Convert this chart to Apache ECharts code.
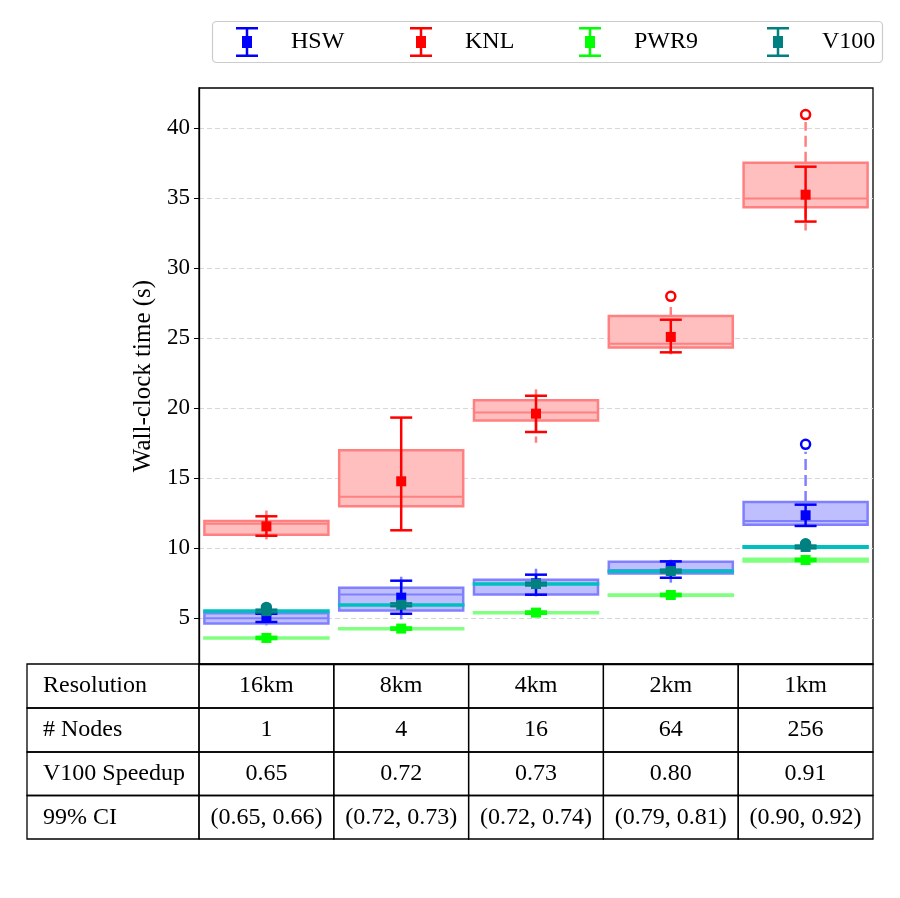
<!DOCTYPE html>
<html><head><meta charset="utf-8">
<script src="https://cdn.jsdelivr.net/npm/echarts@6/dist/echarts.min.js"></script>
<style>html,body{margin:0;padding:0;background:#fff}#c{width:900px;height:898px}</style>
</head><body><div id="c"></div>
<script>
// ---------------- data ----------------
const categories = ['16km', '8km', '4km', '2km', '1km'];
const nodes = ['1', '4', '16', '64', '256'];
const speedup = ['0.65', '0.72', '0.73', '0.80', '0.91'];
const speedupCI = ['(0.65, 0.66)', '(0.72, 0.73)', '(0.72, 0.74)', '(0.79, 0.81)', '(0.90, 0.92)'];
const yTicks = [5, 10, 15, 20, 25, 30, 35, 40];
const archNames = ['HSW', 'KNL', 'PWR9', 'V100'];

// HSW
const hswWhiskerLow  = [4.50, 4.93, 6.57, 7.55, 11.60];
const hswQ1          = [4.64, 5.57, 6.71, 8.21, 11.69];
const hswMedian      = [5.00, 6.71, 7.45, 8.45, 11.95];
const hswQ3          = [5.36, 7.19, 7.76, 9.04, 13.31];
const hswWhiskerHigh = [5.50, 8.26, 8.86, 9.19, 16.90];
const hswMean        = [5.05, 6.48, 7.50, 8.64, 12.36];
const hswCILow       = [4.74, 5.33, 6.69, 7.90, 11.60];
const hswCIHigh      = [5.33, 7.69, 8.12, 9.07, 13.12];
const hswOutliers    = [[4, 17.43]];

// KNL
const knlWhiskerLow  = [10.64, 13.00, 17.55, 23.86, 32.71];
const knlQ1          = [10.98, 13.00, 19.14, 24.34, 34.36];
const knlMedian      = [11.76, 13.69, 19.71, 24.62, 34.98];
const knlQ3          = [11.95, 17.00, 20.57, 26.59, 37.55];
const knlWhiskerHigh = [12.70, 17.00, 21.70, 27.24, 40.45];
const knlMean        = [11.57, 14.79, 19.62, 25.10, 35.26];
const knlCILow       = [10.90, 11.29, 18.31, 24.00, 33.34];
const knlCIHigh      = [12.29, 19.34, 20.90, 26.33, 37.26];
const knlOutliers    = [[3, 28.00], [4, 40.98]];

// PWR9
const pwrWhiskerLow  = [3.56, 4.22, 5.36, 6.62, 9.06];
const pwrQ1          = [3.56, 4.22, 5.36, 6.62, 9.06];
const pwrMedian      = [3.60, 4.26, 5.40, 6.66, 9.16];
const pwrQ3          = [3.64, 4.30, 5.44, 6.70, 9.26];
const pwrWhiskerHigh = [3.64, 4.30, 5.44, 6.70, 9.26];
const pwrMean        = [3.60, 4.27, 5.41, 6.67, 9.17];
const pwrCILow       = [3.52, 4.19, 5.33, 6.59, 9.09];
const pwrCIHigh      = [3.68, 4.35, 5.49, 6.75, 9.25];
const pwrOutliers    = [];

// V100
const v100WhiskerLow  = [5.48, 5.91, 7.41, 8.32, 10.05];
const v100Q1          = [5.48, 5.91, 7.41, 8.32, 10.05];
const v100Median      = [5.52, 5.95, 7.45, 8.36, 10.10];
const v100Q3          = [5.56, 5.99, 7.49, 8.40, 10.15];
const v100WhiskerHigh = [5.56, 5.99, 7.49, 8.40, 10.15];
const v100Mean        = [5.52, 5.97, 7.45, 8.38, 10.10];
const v100CILow       = [5.42, 5.87, 7.35, 8.28, 10.00];
const v100CIHigh      = [5.62, 6.07, 7.55, 8.48, 10.20];
const v100Outliers    = [[0, 5.78], [4, 10.32]];

// ---------------- styles / layout ----------------
const FONT = '"Liberation Serif", "DejaVu Serif", serif';
const FS = 24;
const FS_TICK = 23;
const mainColor = { HSW: '#0000ff', KNL: '#ff0000', PWR9: '#00ff00', V100: '#008080' };
const boxFill   = { HSW: '#bfbfff', KNL: '#ffbfbf', PWR9: '#bfffbf', V100: '#80dfdf' };
const boxEdge   = { HSW: '#8080ff', KNL: '#ff8080', PWR9: '#80ff80', V100: '#00bfbf' };
const outlierFill = { HSW: '#ffffff', KNL: '#ffffff', PWR9: '#ffffff', V100: '#008080' };

const plotL = 199, plotR = 873, plotT = 88, plotB = 664;
const W = 900, H = 898;

function boxSeries(name, wl, q1, med, q3, wh) {
  const fill = boxFill[name], edge = boxEdge[name];
  return {
    type: 'custom', name: name + ' box', z: 2,
    data: categories.map((c, i) => [i, wl[i], q1[i], med[i], q3[i], wh[i]]),
    encode: { x: 0, y: [1, 2, 3, 4, 5] },
    renderItem(params, api) {
      const i = api.value(0);
      const bw = api.size([1, 0])[0] * 0.92;
      const pl = api.coord([i, api.value(1)]);
      const p1 = api.coord([i, api.value(2)]);
      const pm = api.coord([i, api.value(3)]);
      const p3 = api.coord([i, api.value(4)]);
      const ph = api.coord([i, api.value(5)]);
      const cx = p1[0];
      const children = [];
      if (pl[1] > p1[1] + 0.5) children.push({ type: 'line', shape: { x1: cx, y1: p1[1], x2: cx, y2: pl[1] }, style: { stroke: edge, lineWidth: 2.5, lineDash: [11, 5] } });
      if (ph[1] < p3[1] - 0.5) children.push({ type: 'line', shape: { x1: cx, y1: p3[1], x2: cx, y2: ph[1] }, style: { stroke: edge, lineWidth: 2.5, lineDash: [11, 5] } });
      children.push({ type: 'rect', shape: { x: cx - bw / 2, y: p3[1], width: bw, height: Math.max(p1[1] - p3[1], 0.5) }, style: { fill: fill, stroke: edge, lineWidth: 2.5 } });
      children.push({ type: 'line', shape: { x1: cx - bw / 2, y1: pm[1], x2: cx + bw / 2, y2: pm[1] }, style: { stroke: edge, lineWidth: 2 } });
      return { type: 'group', children };
    }
  };
}

function errSeries(name, mean, lo, hi) {
  const col = mainColor[name];
  return {
    type: 'custom', name: name, z: 3,
    itemStyle: { color: col },
    data: categories.map((c, i) => [i, mean[i], lo[i], hi[i]]),
    encode: { x: 0, y: [1, 2, 3] },
    renderItem(params, api) {
      const i = api.value(0);
      const pm = api.coord([i, api.value(1)]);
      const plo = api.coord([i, api.value(2)]);
      const phi = api.coord([i, api.value(3)]);
      const cx = pm[0], cap = 11, sq = 10;
      const st = { stroke: col, lineWidth: 2.5 };
      return { type: 'group', children: [
        { type: 'line', shape: { x1: cx, y1: plo[1], x2: cx, y2: phi[1] }, style: st },
        { type: 'line', shape: { x1: cx - cap, y1: plo[1], x2: cx + cap, y2: plo[1] }, style: st },
        { type: 'line', shape: { x1: cx - cap, y1: phi[1], x2: cx + cap, y2: phi[1] }, style: st },
        { type: 'rect', shape: { x: cx - sq / 2, y: pm[1] - sq / 2, width: sq, height: sq }, style: { fill: col } }
      ] };
    }
  };
}

function outlierSeries(name, pts) {
  return {
    type: 'scatter', name: name + ' outliers', z: 4,
    data: pts, symbol: 'circle', symbolSize: 9,
    itemStyle: { color: outlierFill[name], borderColor: mainColor[name], borderWidth: 2.5, opacity: 1 },
    emphasis: { disabled: true }
  };
}

const series = [
  boxSeries('HSW', hswWhiskerLow, hswQ1, hswMedian, hswQ3, hswWhiskerHigh),
  boxSeries('KNL', knlWhiskerLow, knlQ1, knlMedian, knlQ3, knlWhiskerHigh),
  boxSeries('PWR9', pwrWhiskerLow, pwrQ1, pwrMedian, pwrQ3, pwrWhiskerHigh),
  boxSeries('V100', v100WhiskerLow, v100Q1, v100Median, v100Q3, v100WhiskerHigh),
  errSeries('HSW', hswMean, hswCILow, hswCIHigh),
  errSeries('KNL', knlMean, knlCILow, knlCIHigh),
  errSeries('PWR9', pwrMean, pwrCILow, pwrCIHigh),
  errSeries('V100', v100Mean, v100CILow, v100CIHigh),
  outlierSeries('HSW', hswOutliers),
  outlierSeries('KNL', knlOutliers),
  outlierSeries('PWR9', pwrOutliers),
  outlierSeries('V100', v100Outliers)
];

// legend (one component per entry, matching the spread-out layout)
const ICON = 'path://M0,0H22V2.5H12.25V9H16V21H12.25V27.5H22V30H0V27.5H9.75V21H6V9H9.75V2.5H0Z';
const legendIconCenters = [247, 421, 590, 778];
const legends = archNames.map((n, k) => ({
  data: [{ name: n, icon: ICON, itemStyle: { color: mainColor[n], borderWidth: 0 } }],
  left: legendIconCenters[k] - 11, top: 27, padding: 0,
  itemWidth: 22, itemHeight: 30, selectedMode: false,
  formatter: '{t|{name}}',
  textStyle: { color: '#000', fontSize: FS, fontFamily: FONT,
    rich: { t: { padding: [0, 0, 0, 28], fontSize: FS, fontFamily: FONT, color: '#000' } } }
}));

// table graphics
const graphics = [];
graphics.push({ type: 'rect', z: -1, shape: { x: 212.5, y: 21.5, width: 670, height: 41, r: 4 }, style: { fill: '#fff', stroke: '#cccccc', lineWidth: 1.2 } });
const colW = (plotR - plotL) / categories.length;
const colX = [27, plotL];
for (let k = 1; k <= categories.length; k++) colX.push(plotL + k * colW);
const rowY = [664, 708, 752, 795.5, 839];
const tableRows = [
  ['Resolution'].concat(categories),
  ['# Nodes'].concat(nodes),
  ['V100 Speedup'].concat(speedup),
  ['99% CI'].concat(speedupCI)
];
tableRows.forEach((row, r) => {
  row.forEach((txt, c) => {
    const x0 = colX[c], x1 = colX[c + 1], y0 = rowY[r], y1 = rowY[r + 1];
    graphics.push({ type: 'rect', shape: { x: x0, y: y0, width: x1 - x0, height: y1 - y0 }, style: { fill: 'transparent', stroke: '#000', lineWidth: 1.3 } });
    graphics.push({ type: 'text', x: c === 0 ? x0 + 16 : (x0 + x1) / 2, y: (y0 + y1) / 2,
      style: { text: txt, fill: '#000', fontSize: FS, fontFamily: FONT, align: c === 0 ? 'left' : 'center', verticalAlign: 'middle' } });
  });
});

const chart = echarts.init(document.getElementById('c'));
chart.setOption({
  animation: false,
  backgroundColor: '#fff',
  legend: legends,
  grid: { left: plotL, right: W - plotR, top: plotT, bottom: H - plotB, show: true, borderColor: '#000', borderWidth: 1.3, containLabel: false },
  xAxis: {
    type: 'category', data: categories, boundaryGap: true,
    axisLine: { show: true, lineStyle: { color: '#000', width: 1.3 } },
    axisTick: { show: false }, axisLabel: { show: false }, splitLine: { show: false }
  },
  yAxis: {
    type: 'value', min: 1.74, max: 42.88,
    name: 'Wall-clock time (s)', nameLocation: 'middle', nameGap: 31,
    nameTextStyle: { fontSize: FS + 1, fontFamily: FONT, color: '#000' },
    axisLine: { show: true, lineStyle: { color: '#000', width: 1.3 } },
    axisTick: { show: true, length: 5, customValues: yTicks, lineStyle: { color: '#000' } },
    axisLabel: { customValues: yTicks, fontSize: FS_TICK, fontFamily: FONT, color: '#000', margin: 9, padding: [3, 0, 0, 0] },
    splitLine: { show: true, lineStyle: { color: '#d8d8d8', type: [5, 3], width: 1 } }
  },
  graphic: { elements: graphics },
  series
});
</script>
</body></html>
